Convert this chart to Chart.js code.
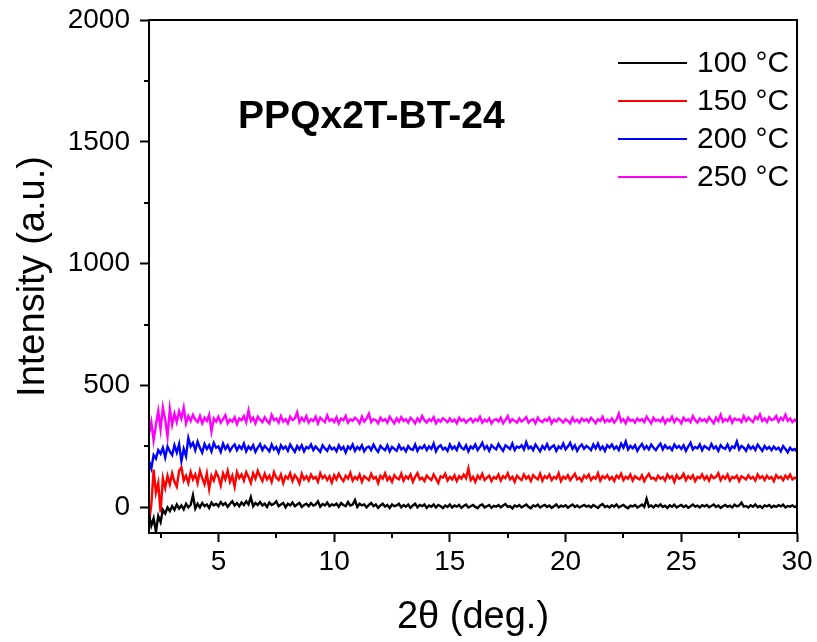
<!DOCTYPE html>
<html>
<head>
<meta charset="utf-8">
<script src="https://cdn.jsdelivr.net/npm/chart.js@4.4.1/dist/chart.umd.min.js"></script>
<style>
  body { margin: 0; background: #fff; }
  #wrap { width: 817px; height: 642px; }
</style>
</head>
<body>
<div id="wrap"><canvas id="xrd" width="817" height="642"></canvas></div>
<script>
// 2theta grid: 2.0 .. 30.0 deg, 0.1 deg per point
const thetaStart = 2.0;
const thetaStep = 0.1;

const labels100 = '100 °C';
const labels150 = '150 °C';
const labels200 = '200 °C';
const labels250 = '250 °C';

const int100 = [
  -30, -75, -45, -100, -35, -60, -10, -25, 0, -15,
  5, -10, 12, -5, 8, -8, 15, 0, 10, 50,
  -5, 15, 0, 18, 5, 12, -2, 20, 8, 15,
  5, 22, 10, 18, 2, 15, 25, 8, 18, 5,
  20, 10, 25, 12, 42, 5, 18, 10, 22, 8,
  15, 2, 20, 10, 15, 25, 5, 12, 18, 0,
  15, 8, 20, 5, 12, 18, 2, 10, 15, 5,
  18, 8, 12, 25, 3, 14, 8, 20, 5, 12,
  8, 15, 2, 18, 10, 5, 22, 8, 12, 30,
  2, 15, 8, 12, 0, 10, 18, 5, 12, -2,
  8, 15, 3, 10, -2, 12, 5, 8, 15, 0,
  10, 3, 12, -2, 8, 15, 0, 10, 5, 12,
  -2, 8, 3, 12, 0, 10, 5, -3, 8, 2,
  12, 0, 8, 3, 10, -2, 6, 12, 0, 5,
  10, 2, -3, 8, 12, 0, 5, 10, -2, 6,
  3, 10, 0, 8, 14, 2, 5, -4, 8, 3,
  10, 0, 6, 12, 2, -3, 8, 4, 11, 0,
  6, 10, 2, 8, -2, 5, 12, 0, 7, 3,
  9, -1, 6, 12, 2, 8, 0, 5, 10, 3,
  7, 0, 10, 4, -2, 8, 14, 2, 6, 0,
  9, 3, 12, 0, 6, 10, 2, -3, 7, 4,
  10, 0, 5, 12, 2, 35, 3, 8, 0, 10,
  4, 12, 2, 7, -2, 9, 3, 11, 0, 6,
  10, 2, 8, -1, 5, 12, 3, 7, 0, 9,
  4, 10, 1, 6, 12, 2, 8, -2, 5, 10,
  2, 7, 0, 11, 4, 8, 20, 3, 6, 0,
  9, 3, 12, 1, 6, -2, 8, 4, 10, 0,
  7, 2, 9, 4, 11, 0, 6, 3, 8, 2,
  5
];

const int150 = [
  -60, 10, 155, 60, 100, -20, 120, 80, 130, 95,
  140, 105, 85, 150, 165, 110, 130, 100, 145, 115,
  135, 100, 150, 120, 95, 140, 75, 130, 110, 145,
  125, 90, 140, 115, 150, 105, 130, 85, 145, 120,
  135, 110, 145, 125, 100, 140, 118, 150, 128, 108,
  138, 115, 130, 105, 145, 122, 112, 135, 100, 128,
  118, 140, 108, 132, 120, 98, 138, 115, 128, 110,
  135, 118, 125, 105, 140, 120, 130, 112, 128, 102,
  132, 115, 138, 120, 108, 130, 118, 142, 110, 125,
  115, 135, 105, 128, 120, 112, 138, 118, 125, 100,
  130, 118, 140, 112, 125, 105, 132, 120, 115, 138,
  110, 128, 118, 135, 105, 125, 140, 115, 122, 108,
  130, 120, 112, 135, 118, 100, 128, 122, 138, 110,
  125, 115, 132, 108, 128, 118, 135, 120, 160, 112,
  125, 105, 130, 118, 138, 112, 122, 130, 108, 125,
  118, 135, 110, 128, 120, 140, 115, 125, 105, 130,
  120, 112, 135, 118, 128, 108, 132, 122, 115, 138,
  110, 128, 120, 135, 112, 125, 118, 140, 108, 126,
  118, 132, 112, 125, 138, 115, 122, 108, 130, 120,
  135, 112, 125, 118, 140, 110, 128, 120, 132, 115,
  125, 108, 130, 120, 138, 112, 126, 118, 135, 110,
  128, 120, 115, 132, 108, 125, 138, 118, 122, 112,
  130, 118, 125, 110, 135, 120, 128, 105, 132, 118,
  122, 138, 112, 128, 118, 132, 108, 125, 120, 135,
  115, 128, 110, 132, 120, 125, 140, 112, 128, 118,
  135, 110, 125, 120, 130, 108, 128, 122, 115, 132,
  118, 125, 110, 135, 120, 128, 112, 130, 118, 125,
  108, 132, 120, 126, 112, 130, 118, 135, 115, 122,
  118
];

const int200 = [
  190, 160, 215, 200, 235, 220, 245, 205, 250, 230,
  215, 255, 225, 260, 190, 240, 210, 285, 250, 265,
  235, 270, 245, 225, 260, 240, 255, 230, 265, 245,
  250, 228, 262, 240, 255, 232, 248, 258, 235, 252,
  240, 262, 230, 250, 238, 255, 228, 245, 260, 235,
  252, 242, 230, 258, 238, 248, 225, 255, 240, 250,
  232, 258, 242, 228, 252, 238, 255, 230, 248, 242,
  258, 235, 250, 240, 228, 255, 242, 232, 252, 238,
  245, 230, 255, 238, 248, 225, 250, 240, 258, 232,
  248, 238, 255, 230, 245, 250, 235, 258, 240, 228,
  252, 242, 235, 255, 230, 248, 240, 232, 256, 238,
  245, 230, 252, 240, 236, 258, 232, 248, 242, 255,
  235, 250, 240, 262, 230, 248, 255, 238, 245, 232,
  258, 240, 250, 235, 262, 245, 238, 255, 230, 250,
  242, 258, 235, 248, 265, 240, 252, 232, 255, 245,
  238, 260, 245, 232, 255, 248, 240, 262, 235, 250,
  245, 255, 238, 268, 242, 250, 235, 258, 244, 230,
  252, 240, 260, 238, 248, 255, 232, 250, 242, 262,
  238, 250, 265, 240, 255, 232, 248, 258, 240, 252,
  245, 235, 258, 242, 262, 238, 250, 232, 255, 245,
  258, 240, 250, 235, 262, 245, 270, 238, 252, 242,
  255, 232, 248, 260, 240, 252, 238, 258, 245, 235,
  250, 262, 238, 255, 242, 248, 235, 258, 244, 252,
  240, 255, 232, 250, 265, 238, 248, 242, 258, 235,
  252, 245, 238, 260, 242, 250, 232, 255, 245, 240,
  258, 235, 250, 244, 270, 238, 252, 245, 232, 255,
  240, 250, 236, 258, 245, 232, 252, 240, 248, 235,
  250, 238, 245, 230, 252, 240, 226, 245, 235, 240,
  228
];

const int250 = [
  300, 350, 275, 340, 395, 320, 410, 360, 290, 405,
  340, 385, 350, 395, 365, 410, 345, 375, 355, 380,
  360, 350, 375, 345, 368, 355, 380, 312, 365, 352,
  372, 348, 362, 378, 345, 360, 352, 370, 342, 365,
  358, 375, 350, 398, 355, 368, 345, 372, 360, 350,
  370, 355, 345, 380, 358, 365, 348, 375, 352, 362,
  345, 372, 358, 365, 390, 350, 368, 355, 375, 348,
  362, 355, 372, 345, 368, 358, 350, 378, 355, 362,
  350, 370, 345, 365, 358, 375, 348, 362, 355, 368,
  360, 345, 372, 352, 365, 385, 350, 362, 358, 345,
  368, 355, 362, 348, 372, 358, 345, 365, 352, 370,
  355, 362, 348, 368, 358, 345, 365, 352, 375, 358,
  348, 362, 355, 370, 345, 360, 352, 366, 358, 350,
  365, 352, 360, 345, 368, 355, 362, 348, 358, 365,
  350, 362, 355, 372, 348, 360, 352, 365, 345, 358,
  362, 352, 368, 345, 358, 375, 350, 362, 355, 348,
  365, 352, 360, 370, 348, 358, 362, 345, 368, 355,
  350, 362, 355, 368, 345, 360, 352, 365, 358, 348,
  362, 355, 345, 368, 352, 360, 348, 365, 355, 362,
  350, 368, 358, 345, 362, 355, 372, 350, 360, 352,
  365, 348, 360, 385, 352, 362, 345, 368, 355, 360,
  348, 365, 355, 362, 350, 372, 358, 345, 368, 355,
  360, 352, 368, 345, 362, 355, 372, 350, 365, 358,
  345, 368, 355, 362, 350, 375, 358, 348, 365, 355,
  362, 350, 370, 358, 345, 368, 355, 380, 352, 362,
  355, 372, 348, 365, 358, 362, 350, 375, 355, 368,
  358, 350, 372, 362, 382, 355, 365, 350, 370, 358,
  362, 375, 352, 368, 358, 380, 355, 365, 350, 360,
  352
];

const xMajorTicks = [5, 10, 15, 20, 25, 30];
const xMinorTicks = [2.5, 7.5, 12.5, 17.5, 22.5, 27.5];
const yMajorTicks = [0, 500, 1000, 1500, 2000];
const yMinorTicks = [250, 750, 1250, 1750];

const sampleTitle = 'PPQx2T-BT-24';

const FONT = "Arial, 'Liberation Sans', Helvetica, sans-serif";

function toPoints(vals) {
  return vals.map((v, i) => ({ x: +(thetaStart + i * thetaStep).toFixed(2), y: v }));
}

function series(label, vals, color) {
  return {
    label: label,
    data: toPoints(vals),
    borderColor: color,
    backgroundColor: color,
    borderWidth: 2.4,
    pointRadius: 0,
    tension: 0,
    fill: false
  };
}

// box round the plot, minor ticks, in-plot title and legend
const decorations = {
  id: 'decorations',
  afterDraw(chart) {
    const { ctx, chartArea: ca, scales } = chart;
    ctx.save();
    ctx.strokeStyle = '#000';
    ctx.lineWidth = 2;
    ctx.strokeRect(ca.left, ca.top, ca.right - ca.left, ca.bottom - ca.top);

    ctx.beginPath();
    xMinorTicks.forEach(v => {
      const px = Math.round(scales.x.getPixelForValue(v));
      ctx.moveTo(px, ca.bottom);
      ctx.lineTo(px, ca.bottom + 5);
    });
    yMinorTicks.forEach(v => {
      const py = Math.round(scales.y.getPixelForValue(v));
      ctx.moveTo(ca.left, py);
      ctx.lineTo(ca.left - 5, py);
    });
    ctx.stroke();

    // sample name
    ctx.fillStyle = '#000';
    ctx.font = 'bold 39px ' + FONT;
    ctx.textAlign = 'left';
    ctx.textBaseline = 'middle';
    ctx.fillText(sampleTitle, scales.x.getPixelForValue(5.85), scales.y.getPixelForValue(1600));

    // legend
    ctx.font = '30px ' + FONT;
    chart.data.datasets.forEach((ds, i) => {
      const y = ca.top + 43 + i * 38;
      ctx.strokeStyle = ds.borderColor;
      ctx.lineWidth = 2;
      ctx.beginPath();
      ctx.moveTo(ca.right - 179, y);
      ctx.lineTo(ca.right - 110, y);
      ctx.stroke();
      ctx.fillStyle = '#000';
      ctx.fillText(ds.label, ca.right - 100, y + 1);
    });
    ctx.restore();
  }
};

new Chart(document.getElementById('xrd'), {
  type: 'line',
  data: {
    datasets: [
      series(labels100, int100, '#000000'),
      series(labels150, int150, '#ff0000'),
      series(labels200, int200, '#0000ff'),
      series(labels250, int250, '#ff00ff')
    ]
  },
  options: {
    responsive: false,
    animation: false,
    layout: { padding: { top: 20, right: 20, left: 0, bottom: 0 } },
    plugins: {
      legend: { display: false },
      tooltip: { enabled: false }
    },
    scales: {
      x: {
        type: 'linear',
        min: 2,
        max: 30,
        afterBuildTicks: s => { s.ticks = xMajorTicks.map(v => ({ value: v })); },
        afterFit: s => { s.height = 109; s.paddingLeft = 0; s.paddingRight = 0; },
        grid: { drawOnChartArea: false, tickLength: 9, tickWidth: 2, tickColor: '#000' },
        border: { display: false },
        ticks: {
          color: '#000',
          font: { family: FONT, size: 28 },
          padding: 3,
          maxRotation: 0,
          callback: v => String(v)
        },
        title: {
          display: true,
          text: '2θ (deg.)',
          color: '#000',
          font: { family: FONT, size: 38 },
          padding: { top: 0, bottom: 2 }
        }
      },
      y: {
        type: 'linear',
        min: -105,
        max: 2000,
        afterBuildTicks: s => { s.ticks = yMajorTicks.map(v => ({ value: v })); },
        afterFit: s => { s.width = 149; s.paddingTop = 0; s.paddingBottom = 0; },
        grid: { drawOnChartArea: false, tickLength: 9, tickWidth: 2, tickColor: '#000' },
        border: { display: false },
        ticks: {
          color: '#000',
          font: { family: FONT, size: 28 },
          padding: 10,
          callback: v => String(v)
        },
        title: {
          display: true,
          text: 'Intensity (a.u.)',
          color: '#000',
          font: { family: FONT, size: 38 },
          padding: { top: 11, bottom: 0 }
        }
      }
    }
  },
  plugins: [decorations]
});
</script>
</body>
</html>
